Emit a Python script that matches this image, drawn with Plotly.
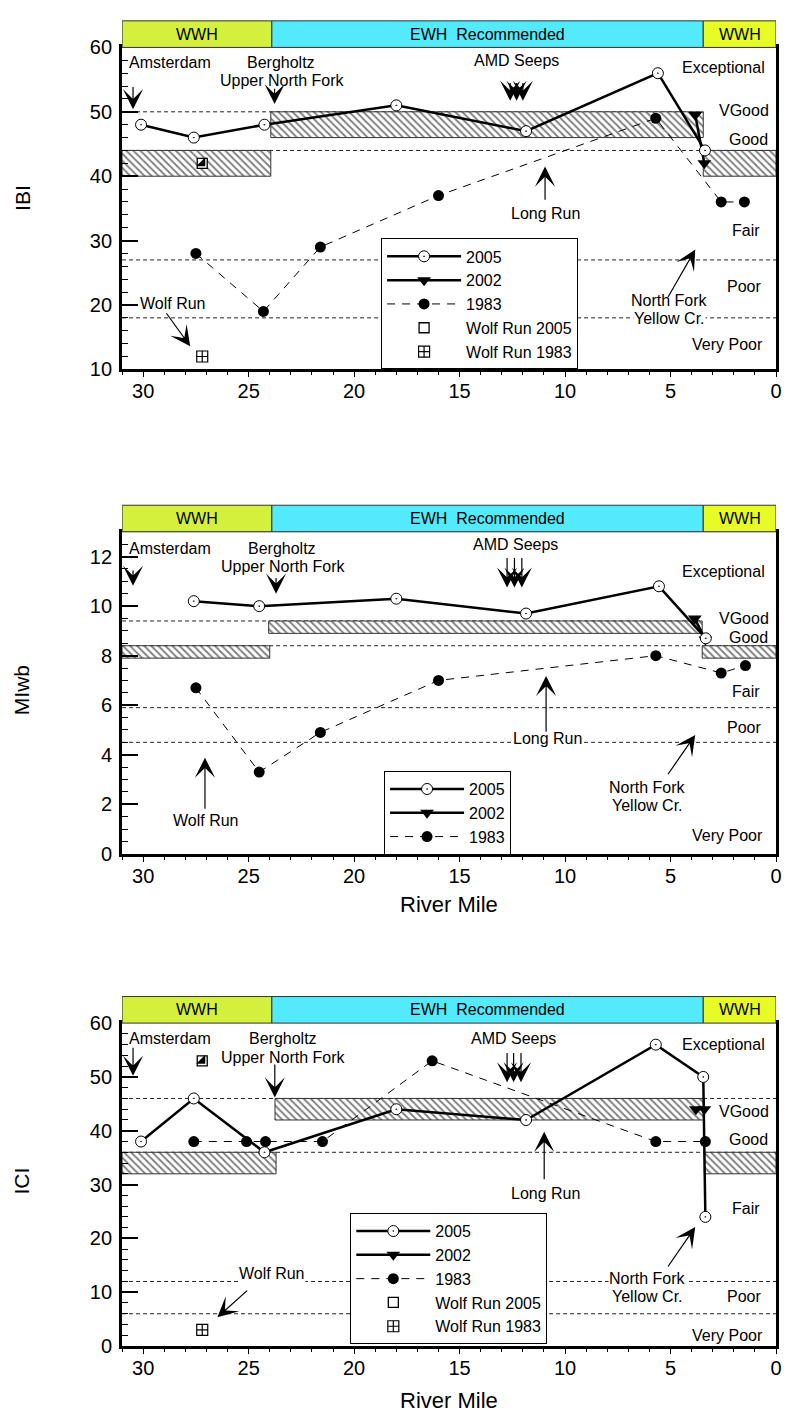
import plotly.graph_objects as go

FONT = "Liberation Sans, Arial, sans-serif"
W, H = 788, 1424

# ------------------------------------------------------------------ data
x_tick_vals = [30, 25, 20, 15, 10, 5, 0]
band_labels = ["WWH", "EWH  Recommended", "WWH"]
band_start = [31.0, 23.9, 3.45]
band_end = [23.9, 3.45, 0.0]
class_names = ["Exceptional", "VGood", "Good", "Fair", "Poor", "Very Poor"]
series_names = ["2005", "2002", "1983", "Wolf Run 2005", "Wolf Run 1983"]

# IBI
ibi_2005_mile = [30.1, 27.6, 24.25, 18.0, 11.85, 5.6, 3.37]
ibi_2005 = [48, 46, 48, 51, 47, 56, 44]
ibi_2002_mile = [3.83, 3.4]
ibi_2002 = [49.5, 42]
ibi_1983_mile = [27.5, 24.3, 21.6, 16.0, 5.7, 2.6, 1.5]
ibi_1983 = [28, 19, 29, 37, 49, 36, 36]
ibi_wolf_mile = [27.2]
ibi_wolf_2005 = [42]
ibi_wolf_1983 = [12]
ibi_crit_start = [31.0, 23.95, 3.45]
ibi_crit_end = [23.95, 3.45, 0.0]
ibi_crit_low = [40, 46, 40]
ibi_crit_high = [44, 50, 44]
ibi_thresholds = [50, 44, 27, 18]
ibi_threshold_end = [3.45, 0.0, 0.0, 0.0]

# MIwb
miwb_2005_mile = [27.6, 24.5, 18.0, 11.85, 5.55, 3.33]
miwb_2005 = [10.2, 10.0, 10.3, 9.7, 10.8, 8.7]
miwb_2002_mile = [3.85, 3.35]
miwb_2002 = [9.5, 8.65]
miwb_1983_mile = [27.5, 24.5, 21.6, 16.0, 5.7, 2.6, 1.45]
miwb_1983 = [6.7, 3.3, 4.9, 7.0, 8.0, 7.3, 7.6]
miwb_crit_start = [31.0, 24.05, 3.5]
miwb_crit_end = [24.0, 3.5, 0.0]
miwb_crit_low = [7.9, 8.9, 7.9]
miwb_crit_high = [8.4, 9.4, 8.4]
miwb_thresholds = [9.4, 8.4, 5.9, 4.5]
miwb_threshold_end = [3.5, 0.0, 0.0, 0.0]

# ICI
ici_2005_mile = [30.1, 27.6, 24.25, 18.0, 11.85, 5.7, 3.45, 3.35]
ici_2005 = [38, 46, 36, 44, 42, 56, 50, 24]
ici_2002_mile = [3.8, 3.4]
ici_2002 = [44, 44]
ici_1983_mile = [27.6, 25.1, 24.2, 21.5, 16.3, 5.7, 3.35]
ici_1983 = [38, 38, 38, 38, 53, 38, 38]
ici_wolf_mile = [27.2]
ici_wolf_2005 = [53]
ici_wolf_1983 = [3]
ici_crit_start = [31.0, 23.75, 3.4]
ici_crit_end = [23.7, 3.4, 0.0]
ici_crit_low = [32, 42, 32]
ici_crit_high = [36, 46, 36]
ici_thresholds = [46, 36, 12, 6]
ici_threshold_end = [0.0, 0.0, 0.0, 0.0]

# ------------------------------------------------------------------ layout config
PLOT_L, PLOT_R = 123, 782
class_x_px = [729, 750, 754, 752, 750, 733]

panels = [
    dict(title="IBI", px=(37, 364), yrange=[10, 60], dtick=10, minor=2, title_y=190,
         s2005=(ibi_2005_mile, ibi_2005), s2002=(ibi_2002_mile, ibi_2002),
         s1983=(ibi_1983_mile, ibi_1983), wolf=(ibi_wolf_mile, ibi_wolf_2005, ibi_wolf_1983),
         crit=(ibi_crit_start, ibi_crit_end, ibi_crit_low, ibi_crit_high),
         thr=(ibi_thresholds, ibi_threshold_end),
         class_y=[56.9, 50.2, 45.7, 31.5, 22.8, 13.9],
         labels=[("Amsterdam", 28.75, 57.7, False), ("Bergholtz", 23.45, 57.7, False),
                 ("Upper North Fork", 23.4, 54.8, False), ("AMD Seeps", 12.3, 58.0, False),
                 ("Long Run", 10.95, 34.2, False), ("North Fork", 5.05, 20.7, False),
                 ("Yellow Cr.", 5.05, 17.95, True), ("Wolf Run", 28.6, 20.2, False)],
         arrows=[(30.48, 50.4, 30.48, 54.1), (23.77, 51.2, 23.77, 53.8),
                 (12.6, 51.7, 12.6, 54.7), (12.3, 51.7, 12.3, 54.7), (12.0, 51.7, 12.0, 54.7),
                 (10.95, 41.5, 10.95, 36.1), (3.83, 28.6, 5.16, 21.0), (27.77, 13.6, 28.95, 18.95)],
         legend=dict(x=384, y=231), river=None),
    dict(title="MIwb", px=(529, 856), yrange=[0, 13], dtick=2, minor=0.5, title_y=690,
         s2005=(miwb_2005_mile, miwb_2005), s2002=(miwb_2002_mile, miwb_2002),
         s1983=(miwb_1983_mile, miwb_1983), wolf=None,
         crit=(miwb_crit_start, miwb_crit_end, miwb_crit_low, miwb_crit_high),
         thr=(miwb_thresholds, miwb_threshold_end),
         class_y=[11.4, 9.5, 8.75, 6.55, 5.1, 0.75],
         labels=[("Amsterdam", 28.73, 12.34, False), ("Bergholtz", 23.4, 12.34, False),
                 ("Upper North Fork", 23.35, 11.6, False), ("AMD Seeps", 12.35, 12.5, False),
                 ("Long Run", 10.85, 4.67, True), ("North Fork", 6.1, 2.69, False),
                 ("Yellow Cr.", 6.1, 1.96, False), ("Wolf Run", 27.0, 1.36, False)],
         arrows=[(30.48, 10.82, 30.48, 11.5), (23.7, 10.5, 23.7, 11.2),
                 (12.75, 10.75, 12.75, 12.0), (12.4, 10.75, 12.4, 12.0), (12.05, 10.75, 12.05, 12.0),
                 (10.9, 7.18, 10.9, 4.87), (3.83, 4.8, 5.17, 3.15), (27.07, 3.88, 27.07, 1.76)],
         legend=dict(x=387, y=772), river=908),
    dict(title="ICI", px=(1028, 1356), yrange=[0, 60], dtick=10, minor=2, title_y=1188,
         s2005=(ici_2005_mile, ici_2005), s2002=(ici_2002_mile, ici_2002),
         s1983=(ici_1983_mile, ici_1983), wolf=(ici_wolf_mile, ici_wolf_2005, ici_wolf_1983),
         crit=(ici_crit_start, ici_crit_end, ici_crit_low, ici_crit_high),
         thr=(ici_thresholds, ici_threshold_end),
         class_y=[56.0, 43.5, 38.3, 25.5, 9.15, 1.9],
         labels=[("Amsterdam", 28.74, 57.2, False), ("Bergholtz", 23.37, 57.2, False),
                 ("Upper North Fork", 23.33, 53.65, False), ("AMD Seeps", 12.46, 57.2, False),
                 ("Long Run", 10.92, 28.4, False), ("North Fork", 6.07, 12.6, True),
                 ("Yellow Cr.", 6.07, 9.15, False), ("Wolf Run", 23.9, 13.4, True)],
         arrows=[(30.48, 50.2, 30.48, 55.7), (23.76, 46.2, 23.76, 52.6),
                 (12.75, 49.0, 12.75, 54.75), (12.44, 49.0, 12.44, 54.75), (12.09, 49.0, 12.09, 54.75),
                 (10.99, 39.8, 10.99, 30.7), (3.83, 22.1, 5.17, 14.5), (26.48, 5.36, 25.0, 10.55)],
         legend=dict(x=353, y=1221), river=1411),
]

band_colors = ["#d4f03c", "#52eafc", "#e6fc24"]

fig = go.Figure()
shapes = []
annotations = []

for i, p in enumerate(panels):
    n = "" if i == 0 else str(i + 1)
    xa, ya = "x" + n, "y" + n
    leg = "legend" + n
    top, bot = p["px"]
    dom = [1 - bot / H, 1 - top / H]
    ph = bot - top

    # criteria boxes (hatched)
    cs, ce, cl, chh = p["crit"]
    for s, e, lo, hi in zip(cs, ce, cl, chh):
        fig.add_trace(go.Scatter(
            x=[s, e, e, s, s], y=[lo, lo, hi, hi, lo], mode="lines", fill="toself",
            fillcolor="white",
            fillpattern=dict(shape="\\", size=5, solidity=0.38, fgcolor="black", bgcolor="white"),
            line=dict(color="#333333", width=1), xaxis=xa, yaxis=ya,
            showlegend=False, hoverinfo="skip"))

    # 1983
    fig.add_trace(go.Scatter(
        x=p["s1983"][0], y=p["s1983"][1], mode="lines+markers", name=series_names[2],
        line=dict(color="black", width=1, dash="8px,7px"),
        marker=dict(symbol="circle", size=11, color="black"),
        xaxis=xa, yaxis=ya, legend=leg, legendrank=3, hoverinfo="skip"))
    # 2002
    fig.add_trace(go.Scatter(
        x=p["s2002"][0], y=p["s2002"][1], mode="lines+markers", name=series_names[1],
        line=dict(color="black", width=2.5),
        marker=dict(symbol="triangle-down", size=12, color="black"),
        xaxis=xa, yaxis=ya, legend=leg, legendrank=2, hoverinfo="skip"))
    # 2005
    fig.add_trace(go.Scatter(
        x=p["s2005"][0], y=p["s2005"][1], mode="lines+markers", name=series_names[0],
        line=dict(color="black", width=2.5),
        marker=dict(symbol="circle-dot", size=11, color="white", line=dict(color="black", width=1)),
        xaxis=xa, yaxis=ya, legend=leg, legendrank=1, hoverinfo="skip"))
    # Wolf Run
    if p["wolf"] is not None:
        wm, w05, w83 = p["wolf"]
        fig.add_trace(go.Scatter(
            x=wm, y=w05, mode="markers", name=series_names[3],
            marker=dict(symbol="square", size=10, color="white", line=dict(color="black", width=1.3)),
            xaxis=xa, yaxis=ya, legend=leg, legendrank=4, legendgroup="w05" + n, hoverinfo="skip"))
        fig.add_trace(go.Scatter(
            x=wm, y=w05, mode="markers", name=series_names[3], showlegend=False,
            marker=dict(symbol="triangle-se", size=10, color="black", line=dict(width=0)),
            xaxis=xa, yaxis=ya, legendgroup="w05" + n, hoverinfo="skip"))
        fig.add_trace(go.Scatter(
            x=wm, y=w83, mode="markers", name=series_names[4],
            marker=dict(symbol="square-cross-open", size=11, color="black", line=dict(width=1.2)),
            xaxis=xa, yaxis=ya, legend=leg, legendrank=5, hoverinfo="skip"))

    # threshold dotted lines
    for yv, xe in zip(*p["thr"]):
        shapes.append(dict(type="line", xref=xa, yref=ya, x0=31, x1=xe, y0=yv, y1=yv,
                           line=dict(color="#222222", width=1, dash="4px,3px"), layer="below"))

    # habitat band on top
    band_h = 27 / ph
    for lbl, s, e, col in zip(band_labels, band_start, band_end, band_colors):
        shapes.append(dict(type="rect", xref=xa, yref=ya + " domain", x0=s, x1=e, y0=1.0, y1=1.0 + band_h,
                           fillcolor=col, line=dict(color="#333333", width=1), layer="above"))
        annotations.append(dict(text=lbl, xref=xa, yref=ya + " domain", x=(s + e) / 2, y=1.0 + band_h / 2,
                                xanchor="center", yanchor="middle",
                                showarrow=False, font=dict(family=FONT, size=16, color="black")))

    # class labels
    for cname, cy, cx in zip(class_names, p["class_y"], class_x_px):
        annotations.append(dict(text=cname, xref=xa + " domain", yref=ya,
                                x=(cx - PLOT_L) / (PLOT_R - PLOT_L), y=cy, showarrow=False,
                                xanchor="center", yanchor="middle",
                                font=dict(family=FONT, size=16, color="black")))
    # site labels
    for txt, lx, ly, bg in p["labels"]:
        a = dict(text=txt, xref=xa, yref=ya, x=lx, y=ly, showarrow=False,
                 xanchor="center", yanchor="middle",
                 font=dict(family=FONT, size=16, color="black"), borderpad=0)
        if bg:
            a["bgcolor"] = "white"
        annotations.append(a)
    # arrows
    for hx, hy, tx, ty in p["arrows"]:
        annotations.append(dict(text="", xref=xa, yref=ya, x=hx, y=hy, axref=xa, ayref=ya, ax=tx, ay=ty,
                                showarrow=True, arrowhead=3, arrowsize=2.8, arrowwidth=1.2,
                                arrowcolor="black"))
    # y-axis title
    annotations.append(dict(text=p["title"], xref="paper", yref="paper", x=22 / W, y=1 - p["title_y"] / H,
                            xanchor="center", yanchor="middle",
                            textangle=-90, showarrow=False, font=dict(family=FONT, size=21, color="black")))
    if p["river"]:
        annotations.append(dict(text="River Mile", xref="paper", yref="paper",
                                x=((PLOT_L + PLOT_R) / 2) / W, y=1 - p["river"] / H,
                                xanchor="center", yanchor="middle",
                                showarrow=False, font=dict(family=FONT, size=22, color="black")))

    axis_common = dict(showline=True, linewidth=3, linecolor="black", mirror=True,
                       showgrid=False, zeroline=False,
                       tickfont=dict(family=FONT, size=20, color="black"))
    fig.layout["xaxis" + n] = dict(
        axis_common, domain=[PLOT_L / W, PLOT_R / W], range=[31, 0], anchor=ya,
        tickmode="array", tickvals=x_tick_vals, ticks="outside", ticklen=5, tickwidth=1,
        tickcolor="black", ticklabelstandoff=-3,
        minor=dict(ticks="outside", ticklen=3, tickwidth=1, dtick=1, tickcolor="black"))
    fig.layout["yaxis" + n] = dict(
        axis_common, domain=dom, range=p["yrange"], anchor=xa, dtick=p["dtick"],
        ticks="inside", ticklen=16, tickwidth=1.5, tickcolor="black", ticklabelstandoff=3,
        minor=dict(ticks="inside", ticklen=6, tickwidth=1, dtick=p["minor"], tickcolor="black"))
    lg = p["legend"]
    fig.layout[leg] = dict(x=lg["x"] / W, y=1 - lg["y"] / H, xanchor="left", yanchor="top",
                           bgcolor="white", bordercolor="black", borderwidth=1,
                           font=dict(family=FONT, size=16, color="black"),
                           itemwidth=74, tracegroupgap=0, traceorder="normal")

fig.update_layout(width=W, height=H, margin=dict(l=0, r=0, t=0, b=0), autosize=False,
                  paper_bgcolor="white", plot_bgcolor="white", shapes=shapes,
                  annotations=annotations, font=dict(family=FONT, color="black"))

fig.write_html("out.html", config={"displayModeBar": False})
